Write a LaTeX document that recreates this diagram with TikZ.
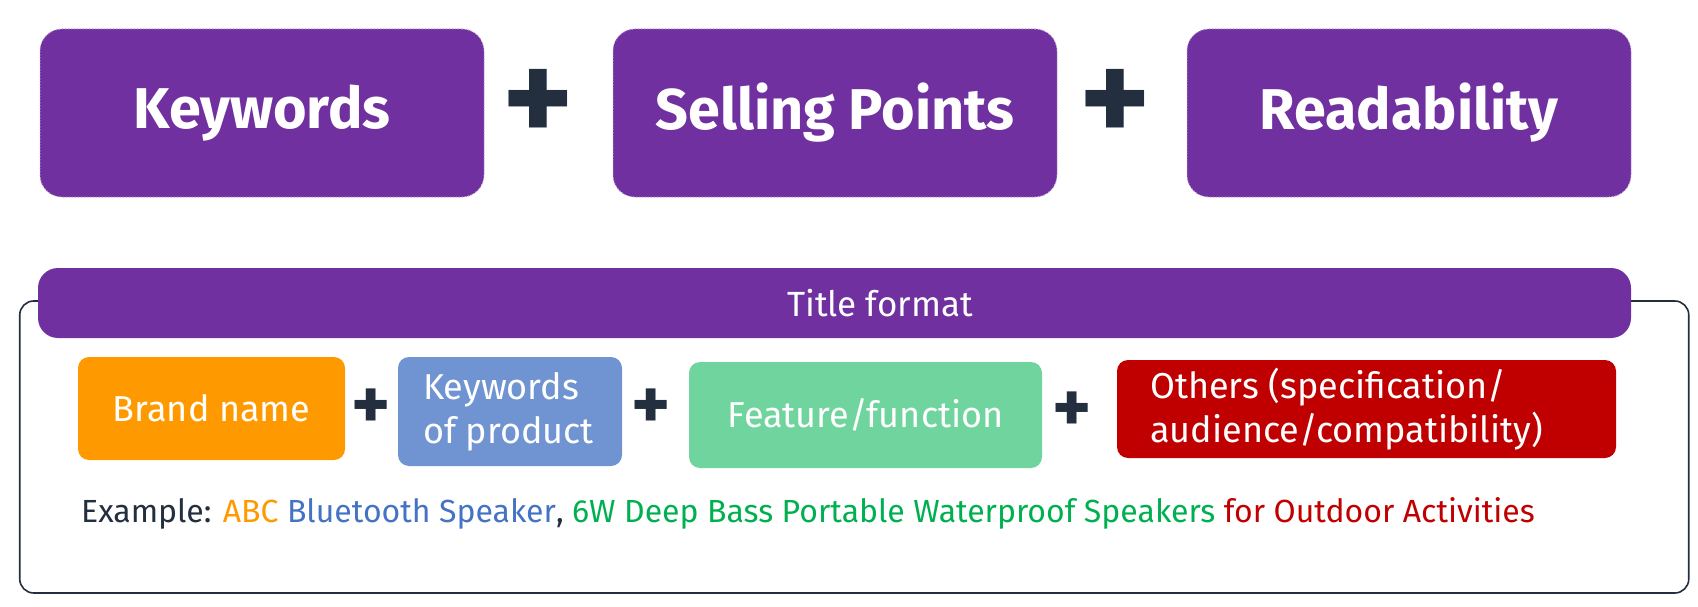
\documentclass[tikz,border=0pt]{standalone}
\usepackage{fontspec}
\setmainfont{Fira Sans}
\definecolor{pur}{HTML}{7030A0}
\definecolor{ink}{HTML}{232F3E}
\definecolor{orng}{HTML}{FF9900}
\definecolor{bluebox}{HTML}{7094D2}
\definecolor{greenbox}{HTML}{70D49E}
\definecolor{redbox}{HTML}{C00000}
\definecolor{bluetxt}{HTML}{4472C4}
\definecolor{greentxt}{HTML}{00B050}
\tikzset{
  topbox/.style={fill=pur, draw=pur!45!white, dotted, line width=1pt, rounded corners=22pt,
    minimum width=444pt, minimum height=168pt, text=white,
    font=\fontsize{57.5}{62}\selectfont\bfseries},
  bigplus/.style={text=ink, font=\fontsize{135}{135}\selectfont\bfseries, inner sep=0pt},
  smallplus/.style={text=ink, font=\fontsize{74}{74}\selectfont\bfseries, inner sep=0pt},
  subbox/.style={rounded corners=11pt, text=white, font=\fontsize{36}{44}\selectfont, inner sep=0pt},
}
\begin{document}
\begin{tikzpicture}[x=1pt,y=-1pt]
\useasboundingbox (0,0) rectangle (1698,607);
% top row
\node[topbox] (kw) at (262,113) {Keywords};
\node[topbox] (sp) at (835,113) {Selling Points};
\node[topbox] (rd) at (1409,113) {Readability};
\node[bigplus] (p1) at (538,106) {+};
\node[bigplus] (p2) at (1115,106) {+};
% frame
\node[draw=ink, line width=1.6pt, rounded corners=14pt, minimum width=1669pt, minimum height=292pt, inner sep=0pt] (frame) at (854.25,447) {};
% title bar
\node[fill=pur, rounded corners=20pt, minimum width=1593pt, minimum height=70pt, inner sep=0pt] (bar) at (834.5,303) {};
\node[text=white, font=\fontsize{35}{42}\selectfont, anchor=center] (bartxt) at (880,303) {Title format};
% sub boxes
\node[subbox, fill=orng, minimum width=267pt, minimum height=103pt] (brand) at (211.5,408.5) {Brand name};
\node[smallplus] (s1) at (371,409) {+};
\node[subbox, fill=bluebox, minimum width=224pt, minimum height=109pt] (kwp) at (510,411.5) {};
\node[text=white, font=\fontsize{36}{44}\selectfont, align=left, anchor=west, inner sep=0pt] (kwptxt) at (423,411.5) {Keywords\\of product};
\node[smallplus] (s2) at (651,409) {+};
\node[subbox, fill=greenbox, minimum width=353pt, minimum height=106pt] (feat) at (865.5,415) {Feature/function};
\node[smallplus] (s3) at (1072,412) {+};
\node[subbox, fill=redbox, minimum width=499pt, minimum height=98pt] (oth) at (1366.5,409) {};
\node[text=white, font=\fontsize{36}{44}\selectfont, align=left, anchor=west, inner sep=0pt] (othtxt) at (1150,409) {Others (specification/\\audience/compatibility)};
% example
\node[anchor=base west, inner sep=0pt, font=\fontsize{32}{38}\selectfont, text=ink] (ex) at (81,522)
  {Example: \textcolor{orng}{ABC} \textcolor{bluetxt}{Bluetooth Speaker}, \textcolor{greentxt}{6W Deep Bass Portable Waterproof Speakers} \textcolor{redbox}{for Outdoor Activities}};
\end{tikzpicture}
\end{document}
